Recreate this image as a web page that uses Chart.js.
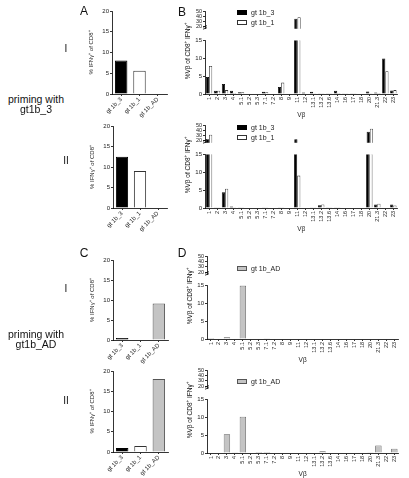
<!DOCTYPE html>
<html>
<head>
<meta charset="utf-8">
<script src="https://cdn.jsdelivr.net/npm/chart.js@4"></script>
<style>
body { margin: 0; background: #fff; width: 409px; height: 478px; position: relative; overflow: hidden;
       font-family: "Liberation Sans", Arial, sans-serif; color: #111; }
.box { position: absolute; }
.txt { position: absolute; white-space: nowrap; transform: translate(-50%, -50%); }
.leg { position: absolute; font-size: 7px; line-height: 10px; white-space: nowrap; color: #222; }
.leg span { display: inline-block; width: 10px; height: 5px; border: 0.8px solid #222; margin-right: 4px; vertical-align: 0px; box-sizing: border-box; }
</style>
</head>
<body>
<script>
const FONT = 'Liberation Sans';

// panel A / C: % IFNg+ of CD8+
const groups = ['gt 1b_3', 'gt 1b_1', 'gt 1b_AD'];
const freqAI = [8.1, 5.6, 0];
const freqAII = [12.5, 9.0, 0];
const freqCI = [0.5, 0, 9.1];
const freqCII = [1.0, 1.5, 18.0];

// panel B / D: %Vb of CD8+ IFNg+
const vbeta = ['1', '2', '3', '4', '5.1', '5.2', '5.3', '7.1', '7.2', '8', '9', '11', '12',
               '13.1', '13.2', '13.6', '14', '16', '17', '18', '20', '21.3', '22', '23'];
const bI_gt3 = [4.8, 0.9, 2.8, 0.9, 0.5, 0, 0, 0.6, 0, 2.0, 0, 35, 0.4, 0.6, 0.2, 0.1, 0.9, 0.1, 0.1, 0, 0.7, 0.4, 10.0, 1.0];
const bI_gt1 = [7.9, 0.9, 1.1, 0.3, 0.5, 0, 0, 0.5, 0, 3.2, 0, 38, 0, 0.2, 0.2, 0.1, 0.3, 0.1, 0.1, 0, 0.2, 0.3, 6.4, 1.1];
const bII_gt3 = [22, 0.1, 4.4, 0.4, 0.2, 0, 0, 0.1, 0, 0.2, 0, 22, 0, 0.1, 0.75, 0.1, 0.1, 0, 0, 0, 37, 1.0, 0, 1.0];
const bII_gt1 = [31, 0.1, 5.4, 0.1, 0.2, 0, 0, 0.1, 0, 0.1, 0, 9.1, 0, 0.1, 1.0, 0.1, 0.1, 0, 0, 0, 43, 1.2, 0, 0.7];
const dI_AD = [0.3, 0, 0.5, 0, 15, 0, 0, 0.2, 0, 0, 0, 0, 0, 0, 0, 0, 0, 0, 0, 0, 0, 0, 0, 0];
const dII_AD = [0, 0, 5.3, 0.2, 10.2, 0, 0.3, 0.3, 0, 0, 0, 0, 0, 0, 0.5, 0, 0, 0, 0, 0, 0.2, 2.1, 0, 1.2];

const lowTicks = [0, 5, 10, 15];
const highTicks = [20, 30, 40, 50];
const freqTicks = [0, 5, 10, 15, 20];

const fill = { 'gt 1b_3': '#000', 'gt 1b_1': '#fff', 'gt 1b_AD': '#c4c4c4' };
const edge = { 'gt 1b_3': '#000', 'gt 1b_1': '#333', 'gt 1b_AD': '#555' };

function mkCanvas(left, top, w, h) {
    const d = document.createElement('div');
    d.className = 'box';
    d.style.left = left + 'px'; d.style.top = top + 'px';
    const c = document.createElement('canvas');
    c.width = w; c.height = h;
    d.appendChild(c);
    document.body.appendChild(d);
    return c;
}

function txt(s, x, y, size, rot) {
    const d = document.createElement('div');
    d.className = 'txt';
    d.style.left = x + 'px'; d.style.top = y + 'px';
    d.style.fontSize = size + 'px';
    if (rot) d.style.transform = 'translate(-50%, -50%) rotate(-90deg)';
    d.innerHTML = s;
    document.body.appendChild(d);
}

function legend(names, x, y) {
    const d = document.createElement('div');
    d.className = 'leg';
    d.style.left = x + 'px'; d.style.top = y + 'px';
    d.innerHTML = names.map(n => `<div><span style="background:${fill[n]};border-color:${edge[n]}"></span>${n}</div>`).join('');
    document.body.appendChild(d);
}

const axisGrid = { display: true, drawOnChartArea: false, offset: false, tickLength: 2, color: '#000', lineWidth: 0.8 };
const axisBorder = { display: true, color: '#000', width: 0.8 };
const base = (padTop, padBottom = 0) => ({
    responsive: false, animation: false, devicePixelRatio: 1,
    layout: { padding: { top: padTop, right: 3, left: 0, bottom: padBottom }, autoPadding: false },
    plugins: { legend: { display: false }, tooltip: { enabled: false } }
});

function freqPanel(p, vals) {
    const yw = 24, xh = 24, padTop = 5;
    const left = Math.round(p.ax - yw), top = Math.round(p.top - padTop);
    const w = Math.round(p.ar - left + 3), h = Math.round(p.y0 - top + xh);
    new Chart(mkCanvas(left, top, w, h), {
        type: 'bar',
        data: {
            labels: groups,
            datasets: [{ data: vals, backgroundColor: groups.map(g => fill[g]), borderColor: groups.map(g => edge[g]),
                         borderWidth: 1, barPercentage: 0.68, categoryPercentage: 1 }]
        },
        options: {
            ...base(padTop),
            scales: {
                x: { grid: axisGrid, border: axisBorder,
                     ticks: { font: { family: FONT, size: 6 }, color: '#222', minRotation: 45, maxRotation: 45, padding: 0, autoSkip: false },
                     afterFit: s => { s.height = xh; } },
                y: { min: 0, max: 20, grid: axisGrid, border: axisBorder,
                     afterBuildTicks: s => { s.ticks = freqTicks.map(v => ({ value: v })); },
                     ticks: { font: { family: FONT, size: 6 }, color: '#222', padding: 1, autoSkip: false },
                     title: { display: true, text: '% IFNγ⁺ of CD8⁺', font: { family: FONT, size: 6 }, color: '#222', padding: 0 },
                     afterFit: s => { s.width = yw; } }
            }
        }
    });
}

// small "//" on the broken axis
const breakMark = {
    id: 'breakMark',
    afterDraw(ch) {
        const { ctx, chartArea: a } = ch;
        ctx.save();
        ctx.strokeStyle = '#000'; ctx.lineWidth = 0.8;
        [0, 2].forEach(o => {
            ctx.beginPath();
            ctx.moveTo(a.left - 2, a.bottom - o + 0.5);
            ctx.lineTo(a.left + 2, a.bottom - o - 1);
            ctx.stroke();
        });
        ctx.restore();
    }
};

// lower segment 0-15 is 54 px tall, upper segment 15-50 sits 6.5 px above it
function vbPanel(p, names, series) {
    const yw = 14, xh = 25, padTop = 4;
    const left = Math.round(p.ax - yw), w = Math.round(p.ar - left + 3);
    const sets = (upper) => names.map((n, i) => ({
        label: n,
        data: upper ? series[i].map(v => v > 15 ? v : null) : series[i],
        backgroundColor: fill[n], borderColor: edge[n], borderWidth: 0.8,
        barPercentage: 1, categoryPercentage: 0.8, clip: 0
    }));
    const yCommon = { grid: axisGrid, border: axisBorder, afterFit: s => { s.width = yw; } };
    const lt = Math.round(p.y0 - 54 - padTop);
    new Chart(mkCanvas(left, lt, w, Math.round(p.y0 - lt + xh)), {
        type: 'bar',
        data: { labels: vbeta, datasets: sets(false) },
        options: {
            ...base(padTop),
            scales: {
                x: { grid: axisGrid, border: axisBorder,
                     ticks: { font: { family: FONT, size: 5.5 }, color: '#222', minRotation: 90, maxRotation: 90, padding: 1, autoSkip: false },
                     title: { display: true, text: 'Vβ', font: { family: FONT, size: 6.5 }, color: '#222', padding: 0 },
                     afterFit: s => { s.height = xh; } },
                y: { ...yCommon, min: 0, max: 15,
                     afterBuildTicks: s => { s.ticks = lowTicks.map(v => ({ value: v })); },
                     ticks: { font: { family: FONT, size: 6 }, color: '#222', padding: 1, autoSkip: false } }
            }
        }
    });
    const ut = Math.round(p.y0 - 83 - padTop);
    new Chart(mkCanvas(left, ut, w, Math.round(p.y0 - 60.5 - ut)), {
        type: 'bar',
        data: { labels: vbeta, datasets: sets(true) },
        options: {
            ...base(padTop),
            scales: {
                x: { display: false },
                y: { ...yCommon, min: 15, max: 50,
                     afterBuildTicks: s => { s.ticks = highTicks.map(v => ({ value: v })); },
                     ticks: { font: { family: FONT, size: 5.5 }, color: '#222', padding: 1, autoSkip: false } }
            }
        },
        plugins: [breakMark]
    });
    txt('%Vβ of CD8<sup style="font-size:4.5px">+</sup> IFNγ<sup style="font-size:4.5px">+</sup>', p.ax - 18, p.y0 - 43, 6.5, true);
    legend(names, 237, p.leg);
}

freqPanel({ ax: 112, ar: 167, top: 11, y0: 93.7 }, freqAI);
freqPanel({ ax: 113, ar: 167, top: 126, y0: 207.7 }, freqAII);
freqPanel({ ax: 113, ar: 168, top: 259.5, y0: 340 }, freqCI);
freqPanel({ ax: 113, ar: 168, top: 371, y0: 452 }, freqCII);

vbPanel({ ax: 205, ar: 398, y0: 93.5, leg: 7.5 }, ['gt 1b_3', 'gt 1b_1'], [bI_gt3, bI_gt1]);
vbPanel({ ax: 205, ar: 398, y0: 207.7, leg: 123 }, ['gt 1b_3', 'gt 1b_1'], [bII_gt3, bII_gt1]);
vbPanel({ ax: 207, ar: 399, y0: 339, leg: 264 }, ['gt 1b_AD'], [dI_AD]);
vbPanel({ ax: 207, ar: 399, y0: 453, leg: 377 }, ['gt 1b_AD'], [dII_AD]);

txt('A', 84, 11, 12); txt('B', 182, 12, 12);
txt('C', 84, 253, 12); txt('D', 182, 253, 12);
txt('I', 66, 48, 10); txt('II', 66, 160, 10);
txt('I', 66, 288, 10); txt('II', 66, 400, 10);
txt('priming with', 36, 99, 10.5); txt('gt1b_3', 36, 108.5, 10.5);
txt('priming with', 36, 334, 10.5); txt('gt1b_AD', 36, 343.5, 10.5);
</script>
</body>
</html>
